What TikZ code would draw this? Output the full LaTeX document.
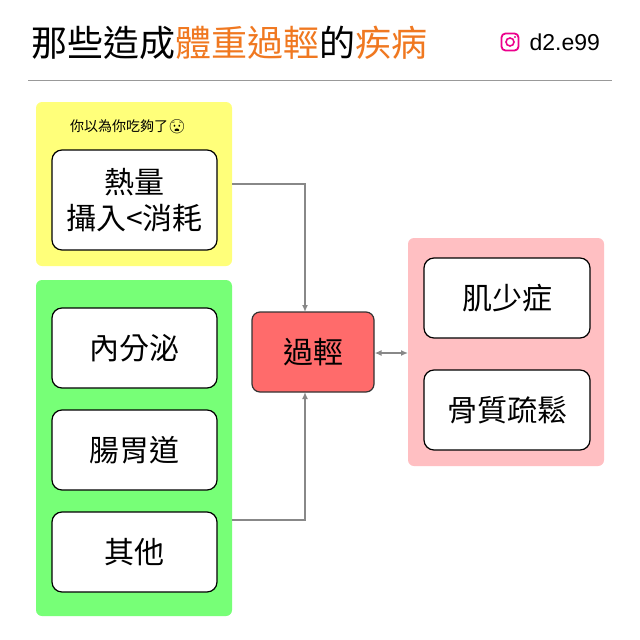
\documentclass[tikz,border=0pt]{standalone}
\usepackage{fontspec}
\usetikzlibrary{arrows.meta}
\newfontfamily\cjk{Noto Sans CJK TC}
\newfontfamily\emo{Noto Emoji}
\setmainfont{Liberation Sans}
\definecolor{ttl}{HTML}{F07820}
\definecolor{ylw}{HTML}{FFFF7A}
\definecolor{grn}{HTML}{77FF77}
\definecolor{pnk}{HTML}{FFBFC2}
\definecolor{red}{HTML}{FF6B6B}
\definecolor{arr}{HTML}{888888}
\begin{document}
\begin{tikzpicture}[x=1pt,y=-1pt,
  panel/.style={rounded corners=6pt,draw=none},
  item/.style={draw=black,line width=1.2pt,fill=white,rounded corners=10pt},
  lbl/.style={font=\cjk\fontsize{30}{36}\selectfont,align=center},
  conn/.style={draw=arr,line width=1.6pt,-{Latex[length=7pt,width=6pt]}}]
\useasboundingbox (0,0) rectangle (640,640);
\fill[white] (0,0) rectangle (640,640);
\node[anchor=west,font=\cjk\fontsize{36}{40}\selectfont] (title) at (28,43) {那些造成\textcolor{ttl}{體重過輕}的\textcolor{ttl}{疾病}};
\node[draw=magenta,line width=1.8pt,rounded corners=4pt,minimum size=17pt,inner sep=0pt] (ig) at (510,42) {};
\draw[magenta,line width=1.6pt] (ig.center) circle (4pt);
\fill[magenta] (515,37) circle (1.2pt);
\node[anchor=west,font=\fontsize{23}{26}\selectfont] (handle) at (526,42) {d2.e99};
\draw[gray!80,line width=1pt] (28,80) -- (612,80);

\fill[ylw,panel] (36,102) rectangle (232,266);
\node[font=\cjk\fontsize{14}{16}\selectfont] (note) at (128,127) {你以為你吃夠了{\emo 😧}};
\draw[item] (52,150) rectangle (217,250);
\node[lbl] (heat) at (134.5,200) {熱量\\攝入<消耗};

\fill[grn,panel] (36,280) rectangle (232,616);
\draw[item] (52,308) rectangle (217,388); \node[lbl] (endo) at (134.5,348) {內分泌};
\draw[item] (52,410) rectangle (217,490); \node[lbl] (gi) at (134.5,450) {腸胃道};
\draw[item] (52,512) rectangle (217,592); \node[lbl] (oth) at (134.5,552) {其他};

\node[draw=black!80,line width=1.2pt,fill=red,rounded corners=8pt,minimum width=122pt,minimum height=80pt,font=\cjk\fontsize{30}{36}\selectfont] (c) at (313,352) {過輕};

\fill[pnk,panel] (408,238) rectangle (604,466);
\draw[item] (424,258) rectangle (590,338); \node[lbl] (m1) at (507,298) {肌少症};
\draw[item] (424,370) rectangle (590,450); \node[lbl] (m2) at (507,410) {骨質疏鬆};

\coordinate (a1) at (232,184); \coordinate (a2) at (232,520);
\coordinate (t1) at (305,312); \coordinate (t2) at (305,392);
\coordinate (p) at (408,353);
\draw[conn] (a1) -| (t1);
\draw[conn] (a2) -| (t2);
\draw[draw=arr,line width=1.6pt,{Latex[length=7pt,width=6pt]}-{Latex[length=7pt,width=6pt]}] (c.east |- p) -- (p);
\end{tikzpicture}
\end{document}
